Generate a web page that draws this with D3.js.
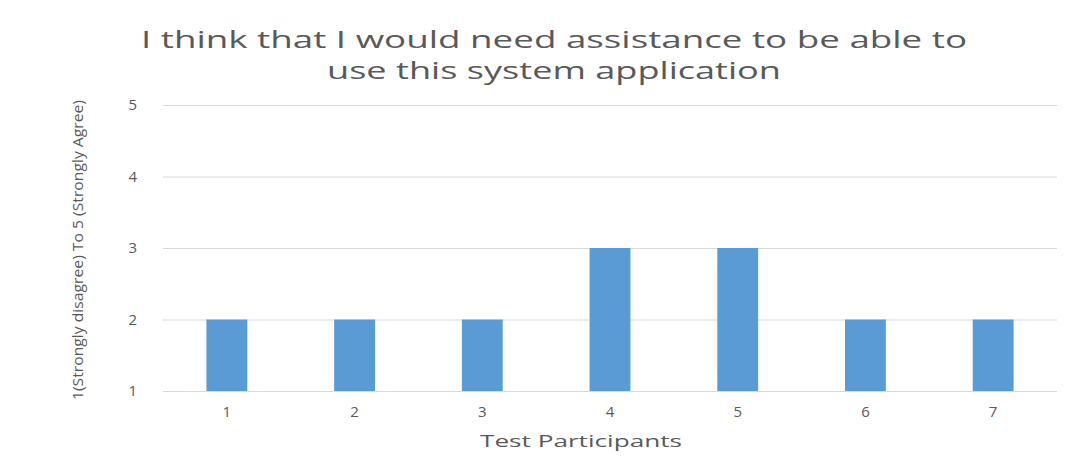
<!DOCTYPE html>
<html>
<head>
<meta charset="utf-8">
<script src="https://cdn.jsdelivr.net/npm/d3@7"></script>
<style>
  html, body { margin: 0; padding: 0; background: #fff; }
  svg { display: block; }
  text { font-family: "Open Sans", "DejaVu Sans", sans-serif; fill: #595959; }
</style>
</head>
<body>
<svg id="chart" width="1065" height="460"></svg>
<script>
// Survey responses per participant (1 = strongly disagree, 5 = strongly agree)
const participants = ["1", "2", "3", "4", "5", "6", "7"];
const scores = [2, 2, 2, 3, 3, 2, 2];
const yTicks = [1, 2, 3, 4, 5];
const titleLines = ["I think that I would need assistance to be able to", "use this system application"];
const xTitle = "Test Participants";
const yTitle = "1(Strongly disagree) To 5 (Strongly Agree)";

const svg = d3.select("#chart");
const plot = { left: 163, right: 1057, top: 105, bottom: 391 };

const x = d3.scaleBand()
  .domain(participants)
  .range([plot.left, plot.right])
  .paddingInner(0.68)
  .paddingOuter(0.34);

const y = d3.scaleLinear()
  .domain([1, 5])
  .range([plot.bottom, plot.top]);

// Horizontal gridlines with value labels
const yAxis = d3.axisLeft(y)
  .tickValues(yTicks)
  .tickSize(-(plot.right - plot.left))
  .tickPadding(26)
  .tickFormat(d3.format("d"));

const gy = svg.append("g")
  .attr("transform", `translate(${plot.left},0)`)
  .call(yAxis);
gy.select(".domain").remove();
gy.selectAll(".tick line").attr("stroke", "#d9d9d9").attr("stroke-width", 1.2);
gy.selectAll(".tick text")
  .attr("font-size", 15)
  .attr("fill", "#595959")
  .style("font-family", "'Open Sans', sans-serif");

// Bars
svg.append("g")
  .selectAll("rect")
  .data(participants.map((p, i) => ({ p, v: scores[i] })))
  .join("rect")
  .attr("x", d => x(d.p))
  .attr("width", x.bandwidth())
  .attr("y", d => y(d.v))
  .attr("height", d => y(1) - y(d.v))
  .attr("fill", "#5b9bd5");

// Category labels
const xAxis = d3.axisBottom(x).tickSize(0).tickPadding(15);
const gx = svg.append("g")
  .attr("transform", `translate(0,${plot.bottom})`)
  .call(xAxis);
gx.select(".domain").remove();
gx.selectAll(".tick text")
  .attr("font-size", 15)
  .attr("fill", "#595959")
  .style("font-family", "'Open Sans', sans-serif");

// Chart title
svg.append("g")
  .selectAll("text")
  .data(titleLines)
  .join("text")
  .attr("x", 554)
  .attr("y", (d, i) => 48 + i * 31)
  .attr("text-anchor", "middle")
  .attr("font-size", 24)
  .attr("textLength", (d, i) => i === 0 ? 826 : 454)
  .attr("lengthAdjust", "spacingAndGlyphs")
  .text(d => d);

// Axis titles
svg.append("text")
  .attr("x", 581)
  .attr("y", 447)
  .attr("text-anchor", "middle")
  .attr("font-size", 17)
  .attr("textLength", 202)
  .attr("lengthAdjust", "spacingAndGlyphs")
  .text(xTitle);

svg.append("text")
  .attr("transform", "translate(83,250) rotate(-90)")
  .attr("text-anchor", "middle")
  .attr("font-size", 15)
  .attr("textLength", 300)
  .attr("lengthAdjust", "spacingAndGlyphs")
  .text(yTitle);
</script>
</body>
</html>
